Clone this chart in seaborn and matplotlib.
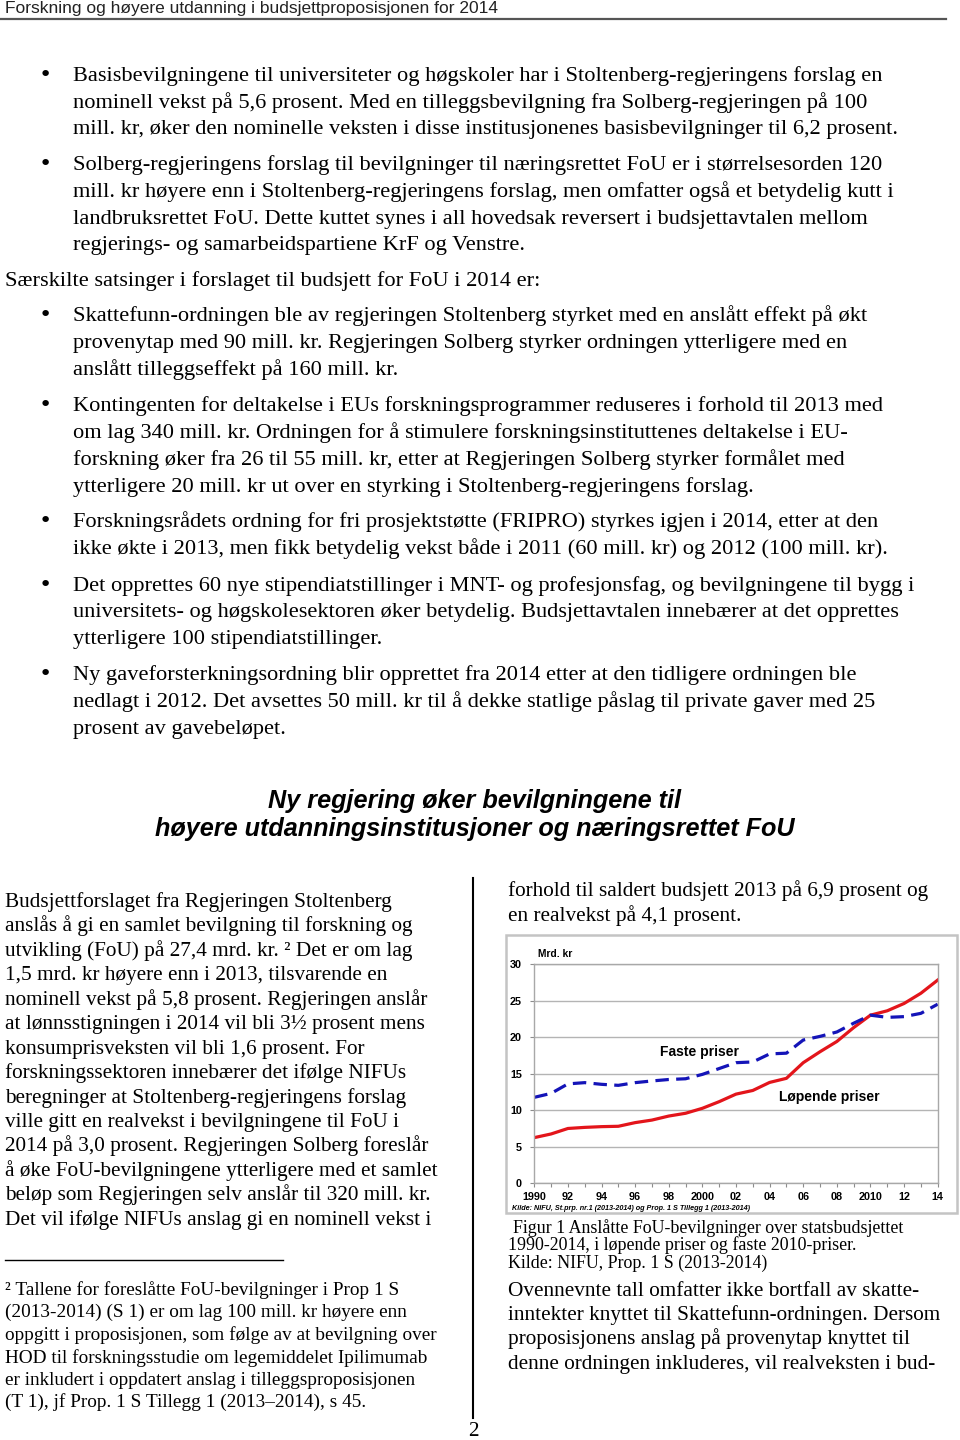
import matplotlib
matplotlib.use("Agg")
import matplotlib.pyplot as plt
import matplotlib.patches as mpatches
import matplotlib.lines as mlines
import numpy as np
import pandas as pd
import seaborn as sns

# ---------------- data ----------------
years = list(range(1990, 2015))
lopende_priser = [6.25, 6.75, 7.5, 7.65, 7.75, 7.8, 8.3, 8.65, 9.2, 9.58, 10.26, 11.17,
                  12.2, 12.7, 13.8, 14.36, 16.5, 18.0, 19.4, 21.3, 23.0, 23.6, 24.6, 26.0, 27.8]
faste_priser = [11.76, 12.3, 13.6, 13.77, 13.54, 13.4, 13.77, 14.0, 14.2, 14.3, 14.9, 15.7,
                16.5, 16.6, 17.7, 17.8, 19.6, 20.1, 20.7, 21.9, 23.0, 22.7, 22.8, 23.25, 24.5]
series_names = ["Løpende priser", "Faste priser"]
x_major = list(range(1990, 2015, 2))
x_labels = ["1990", "92", "94", "96", "98", "2000", "02", "04", "06", "08", "2010", "12", "14"]
y_ticks = [0, 5, 10, 15, 20, 25, 30]

header = "Forskning og høyere utdanning i budsjettproposisjonen for 2014"
top_blocks = [
    ("bullet", ["Basisbevilgningene til universiteter og høgskoler har i Stoltenberg-regjeringens forslag en",
                "nominell vekst på 5,6 prosent. Med en tilleggsbevilgning fra Solberg-regjeringen på 100",
                "mill. kr, øker den nominelle veksten i disse institusjonenes basisbevilgninger til 6,2 prosent."],
     [75, 102, 128]),
    ("bullet", ["Solberg-regjeringens forslag til bevilgninger til næringsrettet FoU er i størrelsesorden 120",
                "mill. kr høyere enn i Stoltenberg-regjeringens forslag, men omfatter også et betydelig kutt i",
                "landbruksrettet FoU. Dette kuttet synes i all hovedsak reversert i budsjettavtalen mellom",
                "regjerings- og samarbeidspartiene KrF og Venstre."],
     [164, 191, 218, 244]),
    ("plain", ["Særskilte satsinger i forslaget til budsjett for FoU i 2014 er:"], [280]),
    ("bullet", ["Skattefunn-ordningen ble av regjeringen Stoltenberg styrket med en anslått effekt på økt",
                "provenytap med 90 mill. kr. Regjeringen Solberg styrker ordningen ytterligere med en",
                "anslått tilleggseffekt på 160 mill. kr."],
     [315, 342, 369]),
    ("bullet", ["Kontingenten for deltakelse i EUs forskningsprogrammer reduseres i forhold til 2013 med",
                "om lag 340 mill. kr. Ordningen for å stimulere forskningsinstituttenes deltakelse i EU-",
                "forskning øker fra 26 til 55 mill. kr, etter at Regjeringen Solberg styrker formålet med",
                "ytterligere 20 mill. kr ut over en styrking i Stoltenberg-regjeringens forslag."],
     [405, 432, 459, 486]),
    ("bullet", ["Forskningsrådets ordning for fri prosjektstøtte (FRIPRO) styrkes igjen i 2014, etter at den",
                "ikke økte i 2013, men fikk betydelig vekst både i 2011 (60 mill. kr) og 2012 (100 mill. kr)."],
     [521, 548]),
    ("bullet", ["Det opprettes 60 nye stipendiatstillinger i MNT- og profesjonsfag, og bevilgningene til bygg i",
                "universitets- og høgskolesektoren øker betydelig. Budsjettavtalen innebærer at det opprettes",
                "ytterligere 100 stipendiatstillinger."],
     [585, 611, 638]),
    ("bullet", ["Ny gaveforsterkningsordning blir opprettet fra 2014 etter at den tidligere ordningen ble",
                "nedlagt i 2012. Det avsettes 50 mill. kr til å dekke statlige påslag til private gaver med 25",
                "prosent av gavebeløpet."],
     [674, 701, 728]),
]
title_lines = ["Ny regjering øker bevilgningene til",
               "høyere utdanningsinstitusjoner og næringsrettet FoU"]
left_col = ["Budsjettforslaget fra Regjeringen Stoltenberg",
            "anslås å gi en samlet bevilgning til forskning og",
            "utvikling (FoU) på 27,4 mrd. kr. ² Det er om lag",
            "1,5 mrd. kr høyere enn i 2013, tilsvarende en",
            "nominell vekst på 5,8 prosent. Regjeringen anslår",
            "at lønnsstigningen i 2014 vil bli 3½ prosent mens",
            "konsumprisveksten vil bli 1,6 prosent. For",
            "forskningssektoren innebærer det ifølge NIFUs",
            "beregninger at Stoltenberg-regjeringens forslag",
            "ville gitt en realvekst i bevilgningene til FoU i",
            "2014 på 3,0 prosent. Regjeringen Solberg foreslår",
            "å øke FoU-bevilgningene ytterligere med et samlet",
            "beløp som Regjeringen selv anslår til 320 mill. kr.",
            "Det vil ifølge NIFUs anslag gi en nominell vekst i"]
footnote = ["² Tallene for foreslåtte FoU-bevilgninger i Prop 1 S",
            "(2013-2014) (S 1) er om lag 100 mill. kr høyere enn",
            "oppgitt i proposisjonen, som følge av at bevilgning over",
            "HOD til forskningsstudie om legemiddelet Ipilimumab",
            "er inkludert i oppdatert anslag i tilleggsproposisjonen",
            "(T 1), jf Prop. 1 S Tillegg 1 (2013–2014), s 45."]
right_top = ["forhold til saldert budsjett 2013 på 6,9 prosent og",
             "en realvekst på 4,1 prosent."]
caption = ["Figur 1 Anslåtte FoU-bevilgninger over statsbudsjettet",
           "1990-2014, i løpende priser og faste 2010-priser.",
           "Kilde: NIFU, Prop. 1 S (2013-2014)"]
right_bottom = ["Ovennevnte tall omfatter ikke bortfall av skatte-",
                "inntekter knyttet til Skattefunn-ordningen. Dersom",
                "proposisjonens anslag på provenytap knyttet til",
                "denne ordningen inkluderes, vil realveksten i bud-"]
chart_unit = "Mrd. kr"
chart_source = "Kilde: NIFU, St.prp. nr.1 (2013-2014) og Prop. 1 S Tillegg 1 (2013-2014)"
page_number = "2"

# ---------------- figure ----------------
W, H = 960, 1440
fig = plt.figure(figsize=(W / 100, H / 100), dpi=100)
fig.patch.set_facecolor("white")
renderer = fig.canvas.get_renderer()

SERIF = "Liberation Serif"
SANS = "Liberation Sans"


def fx(x):
    return x / W


def fy(y):
    return 1 - y / H


def fit(text, target, family, weight="normal", style="normal", base=20.0):
    t = fig.text(0, 0, text, fontsize=base, family=family, weight=weight, style=style)
    w = t.get_window_extent(renderer).width
    t.remove()
    return base * target / w


def put(x, y, text, size, family=SERIF, **kw):
    fig.text(fx(x), fy(y), text, fontsize=size, family=family, va="baseline", **kw)


# header
hs = fit(header, 492, SANS)
put(5, 13, header, hs, SANS, color="#222222")
fig.add_artist(mlines.Line2D([fx(0), fx(946)], [fy(18.5), fy(18.5)], color="#555555", lw=1.6))

# top bullets
body = fit(top_blocks[0][1][2], 824, SERIF)
for kind, lines, ys in top_blocks:
    for i, (ln, yc) in enumerate(zip(lines, ys)):
        if kind == "bullet":
            put(73, yc + 6, ln, body)
            if i == 0:
                put(45, yc + 6, "•", body * 1.0, "DejaVu Sans", ha="center")
        else:
            put(5, yc + 6, ln, body)

# title
ts = fit(title_lines[1], 640, SANS, weight="bold", style="italic")
for ln, yc in zip(title_lines, [800, 828]):
    fig.text(fx(475), fy(yc + 8), ln, fontsize=ts, family=SANS, weight="bold",
             style="italic", ha="center", va="baseline")

# left column
ls = fit(left_col[12], 426, SERIF)
for i, ln in enumerate(left_col):
    put(5, 901 + 24.45 * i + 6, ln, ls)

# footnote
fs = fit(footnote[2], 432, SERIF)
fig.add_artist(mlines.Line2D([fx(5), fx(283)], [fy(1260), fy(1260)], color="black", lw=1))
for ln, yc in zip(footnote, [1290, 1312, 1335, 1358, 1380, 1402]):
    put(5, yc + 5, ln, fs)

# divider + page number
fig.add_artist(mlines.Line2D([fx(473), fx(473)], [fy(878), fy(1418)], color="black", lw=1.5))
fig.text(fx(473), fy(1431), page_number, fontsize=ls, family=SERIF, ha="center", va="center")

# right column
for ln, yc in zip(right_top, [890, 915]):
    put(508, yc + 6, ln, ls)
cs = ls * 0.84
for ln, yc, x0 in zip(caption, [1228, 1245, 1263], [513, 508, 508]):
    put(x0, yc + 5, ln, cs)
for ln, yc in zip(right_bottom, [1290, 1314, 1338, 1363]):
    put(508, yc + 6, ln, ls)

# ---------------- chart ----------------
fig.add_artist(mpatches.Rectangle((fx(506), fy(1213)), (957 - 506) / W, (1213 - 935) / H,
                                  transform=fig.transFigure, fill=False,
                                  edgecolor="#C4C4C4", lw=1.8))

ax = fig.add_axes([fx(534.3), fy(1183.3), (937.7 - 534.3) / W, (1183.3 - 964) / H])
df = pd.DataFrame({"År": years * 2,
                   "Mrd. kr": lopende_priser + faste_priser,
                   "Serie": [series_names[0]] * len(years) + [series_names[1]] * len(years)})
sns.lineplot(data=df[df["Serie"] == series_names[0]], x="År", y="Mrd. kr", ax=ax,
             color="#E3151B", lw=2.3, legend=False)
sns.lineplot(data=df[df["Serie"] == series_names[1]], x="År", y="Mrd. kr", ax=ax,
             color="#1414B8", lw=2.3, legend=False, linestyle="--")
ax.lines[1].set_dashes((4.2, 2.3))

ax.set_xlim(1990, 2014)
ax.set_ylim(0, 30)
ax.set_xlabel("")
ax.set_ylabel("")
ax.set_yticks(y_ticks)
ax.set_yticklabels([str(v) for v in y_ticks], fontsize=7.8, family=SANS, weight="bold")
ax.set_xticks(x_major)
ax.set_xticklabels(x_labels, fontsize=7.8, family=SANS, weight="bold")
ax.set_xticks(years, minor=True)
ax.grid(axis="y", color="#B4B4B4", lw=1)
ax.set_axisbelow(True)
for s in ax.spines.values():
    s.set_color("#A8A8A8")
    s.set_linewidth(1)
ax.tick_params(axis="both", which="both", color="#8C8C8C", length=3, width=0.8, pad=3)
ax.tick_params(axis="y", pad=6)
ax.set_facecolor("white")

fig.text(fx(538), fy(954), chart_unit, fontsize=7.4, family=SANS, weight="bold", va="center")
ax.text(1999.8, 17.96, series_names[1], fontsize=10, family=SANS, weight="bold",
        ha="center", va="center")
ax.text(2007.54, 11.8, series_names[0], fontsize=10, family=SANS, weight="bold",
        ha="center", va="center")
fig.text(fx(512), fy(1208), chart_source, fontsize=5.2, family=SANS, weight="bold",
         style="italic", va="center")

fig.savefig("out.png", dpi=100, facecolor="white")
